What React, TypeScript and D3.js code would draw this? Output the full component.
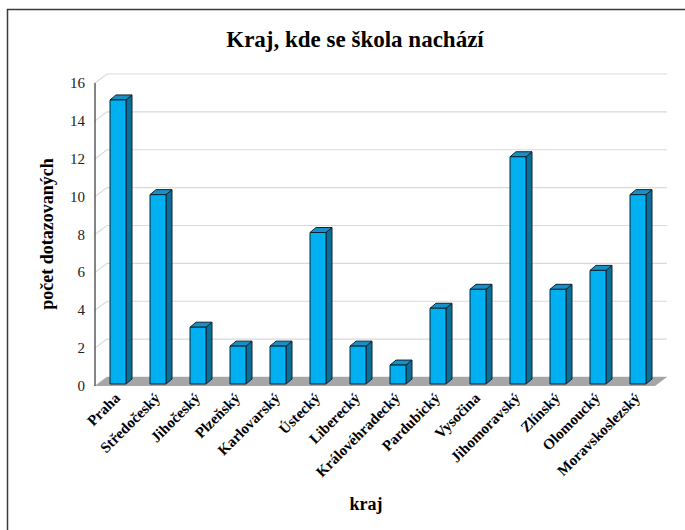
import React from "react";
import * as d3 from "d3";

const categories = ["Praha","Středočeský","Jihočeský","Plzeňský","Karlovarský","Ústecký","Liberecký","Královéhradecký","Pardubický","Vysočina","Jihomoravský","Zlínský","Olomoucký","Moravskoslezský"];
const values = [15,10,3,2,2,8,2,1,4,5,12,5,6,10];
const yTicks = [0,2,4,6,8,10,12,14,16];
const title = "Kraj, kde se škola nachází";
const xTitle = "kraj";
const yTitle = "počet dotazovaných";

export default function App() {
  const W = 685, H = 530;
  const left = 95, right = 655, y0 = 386, y16 = 83;
  const dx = 12, dy = -9;
  const y = d3.scaleLinear().domain([0, 16]).range([y0, y16]);
  const x = d3.scaleBand<string>().domain(categories).range([left, right]).padding(0);
  const font = '"Times New Roman", Times, "Liberation Serif", Tinos, "Noto Serif", "DejaVu Serif", serif';
  const barW = 16, sideD = 6, sideU = 5, barLift = 2;

  return (
    <svg width={W} height={H} style={{ position: "absolute", left: 0, top: 0, background: "#fff", fontFamily: font }}>
      <rect x={7.5} y={9.5} width={720} height={560} fill="#fff" stroke="#3a3a3a" strokeWidth={1.5} />
      <text x={355} y={47} textAnchor="middle" fontSize={23} fontWeight="bold" fill="#000">{title}</text>
      {yTicks.map(t => (
        <polyline key={"g" + t} points={`${left},${y(t)} ${left + dx},${y(t) + dy} ${right + dx},${y(t) + dy}`} fill="none" stroke="#d9d9d9" strokeWidth={1.2} />
      ))}
      <polygon points={`${left},${y0} ${right},${y0} ${right + dx},${y0 + dy} ${left + dx},${y0 + dy}`} fill="#a6a6a6" />
      <line x1={left} x2={left} y1={y(0)} y2={y(16)} stroke="#333" strokeWidth={1.2} />
      {yTicks.map(t => (
        <text key={"t" + t} x={85} y={y(t) + 5} textAnchor="end" fontSize={15} fill="#222">{t}</text>
      ))}
      {categories.map((c, i) => {
        const bx = (x(c) as number) + 15;
        const by = y(values[i]) - barLift;
        const bb = y(0) - barLift;
        return (
          <g key={c} stroke="#0b2535" strokeWidth={1} strokeLinejoin="round">
            <polygon points={`${bx + barW},${by} ${bx + barW + sideD},${by - sideU} ${bx + barW + sideD},${bb - sideU} ${bx + barW},${bb}`} fill="#0c6f98" />
            <polygon points={`${bx},${by} ${bx + sideD},${by - sideU} ${bx + barW + sideD},${by - sideU} ${bx + barW},${by}`} fill="#1990c4" />
            <rect x={bx} y={by} width={barW} height={bb - by} fill="#00b0f0" />
          </g>
        );
      })}
      {categories.map(c => {
        const cx = (x(c) as number) + 15 + barW / 2 + 3;
        const cy = 399;
        return (
          <text key={"l" + c} x={cx} y={cy} transform={`rotate(-45 ${cx} ${cy})`} textAnchor="end" fontSize={15} fontWeight="bold" fill="#000">{c}</text>
        );
      })}
      <text x={366} y={510} textAnchor="middle" fontSize={18} fontWeight="bold" fill="#000">{xTitle}</text>
      <text transform={`translate(53, 234) rotate(-90)`} textAnchor="middle" fontSize={18} fontWeight="bold" fill="#000">{yTitle}</text>
    </svg>
  );
}
